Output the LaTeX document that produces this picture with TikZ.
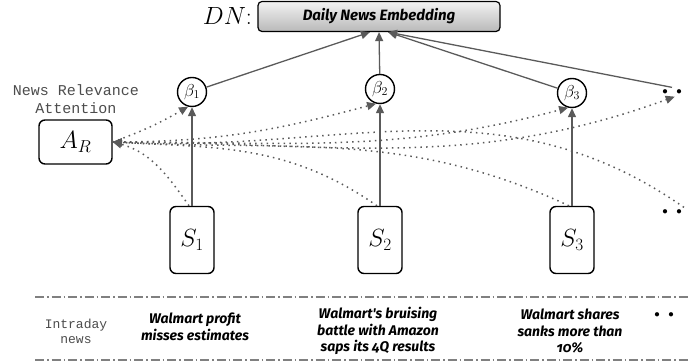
\documentclass[tikz,border=0pt]{standalone}
\usepackage{amsmath}
\usepackage{fontspec}
\usepackage{tikz}
\usetikzlibrary{arrows.meta}
\newfontfamily\headfont[Numbers=OldStyle]{Fira Sans}
\newfontfamily\labelfont{Liberation Mono}
\definecolor{linegray}{RGB}{90,90,90}
\newcommand{\moredots}{{\fontsize{11}{11}\selectfont$\bullet$\hspace{8.5pt}$\bullet$}}
\tikzset{
    embed-box/.style = {draw=black, line width=1.2pt, rectangle, rounded corners=4pt, top color=gray!10, bottom color=gray!55, minimum width=242pt, minimum height=30pt, font=\headfont\bfseries\itshape\fontsize{15}{18}\selectfont},
    weight-node/.style = {draw=black, line width=1.4pt, circle, inner sep=1pt, minimum size=29pt, font=\fontsize{17}{20}\selectfont},
    attn-box/.style = {draw=black, line width=1.4pt, rectangle, rounded corners=6pt, minimum width=73pt, minimum height=44pt, font=\fontsize{24}{28}\selectfont},
    sent-box/.style = {draw=black, line width=1.4pt, rectangle, rounded corners=6pt, minimum width=44pt, minimum height=67pt, font=\fontsize{26}{30}\selectfont},
    mono-label/.style = {text=black!70, align=center, font=\labelfont\fontsize{15}{17.5}\selectfont},
    news-text/.style = {align=center, font=\headfont\bfseries\itshape\fontsize{14}{16.5}\selectfont},
    more-dots/.style = {inner sep=2pt},
    main-arrow/.style = {draw=linegray, line width=1.3pt, -{Triangle[length=9pt,width=8pt]}},
    attn-arrow/.style = {draw=linegray, line width=1.5pt, dash pattern=on 1.5pt off 4.2pt, -{Triangle[length=9pt,width=8pt]}},
    row-line/.style = {draw=gray, line width=1.5pt, dash pattern=on 9pt off 3pt on 1.5pt off 3pt},
}

\begin{document}
\begin{tikzpicture}[x=1pt,y=1pt]
\useasboundingbox (0,0) rectangle (689,364);

\node [embed-box] (dn) at (379,347.5) {Daily News Embedding};
\node [left=2pt, font=\fontsize{24}{28}\selectfont] (dn-label) at (dn.west) {$DN$:};

\node [weight-node] (b1) at (192,272) {$\beta_1$};
\node [weight-node] (b2) at (380,275) {$\beta_2$};
\node [weight-node] (b3) at (572,271) {$\beta_3$};
\node [more-dots] (b-more) at (672,272) {\moredots};

\node [attn-box] (ar) at (75.5,222) {$A_R$};
\node [mono-label] (ar-label) at (76,265) {News Relevance\\Attention};

\node [sent-box] (s1) at (192,124) {$S_1$};
\node [sent-box] (s2) at (380,124) {$S_2$};
\node [sent-box] (s3) at (572,124) {$S_3$};
\node [more-dots] (s-more) at (672,152) {\moredots};

\draw [main-arrow] (s1) -- (b1);
\draw [main-arrow] (s2) -- (b2);
\draw [main-arrow] (s3) -- (b3);
\draw [main-arrow] (b1) -- (dn.-120);
\draw [main-arrow] (b2) -- (dn.south);
\draw [main-arrow] (b3) -- (dn.-60);
\draw [main-arrow] (b-more.north) -- (dn.-60);

\draw [attn-arrow] (ar.east) to[out=20, in=-150] (b1.-105);
\draw [attn-arrow] (ar.east) to[out=0, in=-165] (b2.-105);
\draw [attn-arrow] (ar.east) to[out=0, in=-165] (b3.-105);
\draw [attn-arrow] (ar.east) to[out=0, in=-160] (b-more.-60);
\draw [attn-arrow] (s1.95) to[out=125, in=-15] (ar.east);
\draw [attn-arrow] (s2.95) to[out=145, in=-3] (ar.east);
\draw [attn-arrow] (s3.95) to[out=155, in=-3] (ar.east);
\draw [attn-arrow] (s-more.north east) to[out=145, in=-3] (ar.east);

\draw [row-line] (35,67) -- (689,67);
\draw [row-line] (35,4) -- (689,4);

\node [mono-label, font=\labelfont\fontsize{13}{15}\selectfont] (intraday) at (76,33) {Intraday\\news};
\node [news-text] (h1) at (195,37) {Walmart profit\\misses estimates};
\node [news-text] (h2) at (378,33) {Walmart's bruising\\battle with Amazon\\saps its 4Q results};
\node [news-text] (h3) at (570,33) {Walmart shares\\sanks more than\\10\%};
\node [more-dots] (h-more) at (664,49) {\moredots};
\end{tikzpicture}
\end{document}
